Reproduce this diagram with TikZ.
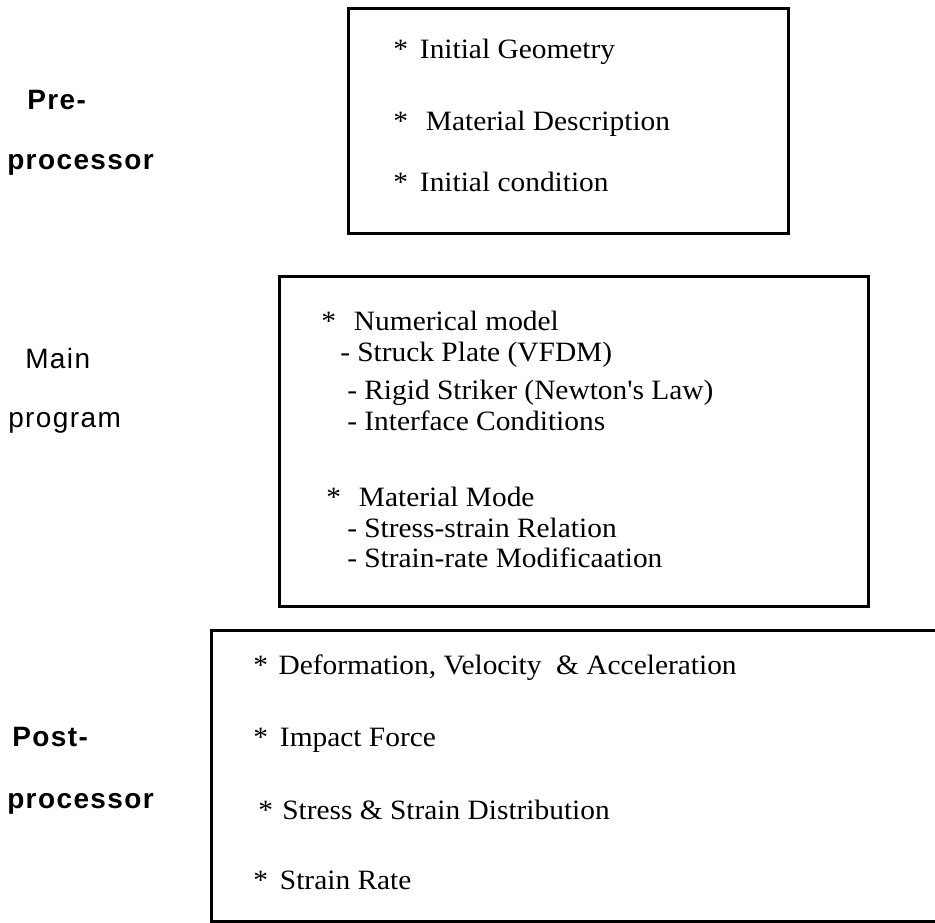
\documentclass[tikz,border=0pt]{standalone}
\usepackage{fontspec}
\setmainfont{Liberation Serif}
\newfontfamily\itemfont[FakeStretch=1.05]{Liberation Serif}
\newfontfamily\stagefont[LetterSpace=5]{Liberation Sans}
\usepackage{tikz}
\usetikzlibrary{positioning}
\tikzset{
    stagebox/.style={
        draw=black,
        rectangle,
        line width=2pt,
        inner sep=0pt,
        anchor=north west
    },
    item/.style={
        anchor=base west,
        inner sep=0pt,
        font=\itemfont\fontsize{21}{24}\selectfont
    },
    stage/.style={
        anchor=base west,
        inner sep=0pt,
        font=\stagefont\fontsize{21}{24}\selectfont
    },
    stagebf/.style={
        stage,
        font=\stagefont\bfseries\fontsize{21}{24}\selectfont
    }
}
\begin{document}
\begin{tikzpicture}[x=0.75pt, y=-0.75pt]
    \useasboundingbox (0,0) rectangle (935,923);
    \clip (0,0) rectangle (935,923);

    % Pre-processor
    \node[stagebox, minimum width=440*0.75pt, minimum height=225*0.75pt] (prebox) at (347,7) {};
    \node[stagebf] (pre) at (27,110) {Pre-};
    \node[stagebf] (preproc) at (7,170) {processor};
    \node[item] (geom) at (393,59) {*\hspace{9pt}Initial Geometry};
    \node[item] (matdesc) at (393,131) {*\hspace{13.5pt}Material Description};
    \node[item] (initcond) at (393,192) {*\hspace{9pt}Initial condition};

    % Main program
    \node[stagebox, minimum width=589*0.75pt, minimum height=330*0.75pt] (mainbox) at (278,275) {};
    \node[stage] (main) at (25,369) {Main};
    \node[stage] (program) at (8,427) {program};
    \node[item] (nummodel) at (321,331) {*\hspace{13.5pt}Numerical model};
    \node[item] (struck) at (340,362) {- Struck Plate (VFDM)};
    \node[item] (rigid) at (347,399) {- Rigid Striker (Newton's Law)};
    \node[item] (interface) at (347,431) {- Interface Conditions};
    \node[item] (matmode) at (326,506) {*\hspace{13.5pt}Material Mode};
    \node[item] (stressstrain) at (347,537) {- Stress-strain Relation};
    \node[item] (strainmod) at (347,567) {- Strain-rate Modificaation};

    % Post-processor
    \node[stagebox, minimum width=760*0.75pt, minimum height=291*0.75pt] (postbox) at (210,629) {};
    \node[stagebf] (post) at (12,746) {Post-};
    \node[stagebf] (postproc) at (7,808) {processor};
    \node[item] (deform) at (253,674) {*\hspace{8pt}Deformation,\ Velocity\ \ \& Acceleration};
    \node[item] (impact) at (253,746) {*\hspace{9pt}Impact Force};
    \node[item] (stressdist) at (258,819) {*\hspace{7pt}Stress \& Strain Distribution};
    \node[item] (strainrate) at (253,889) {*\hspace{9pt}Strain Rate};
\end{tikzpicture}
\end{document}
